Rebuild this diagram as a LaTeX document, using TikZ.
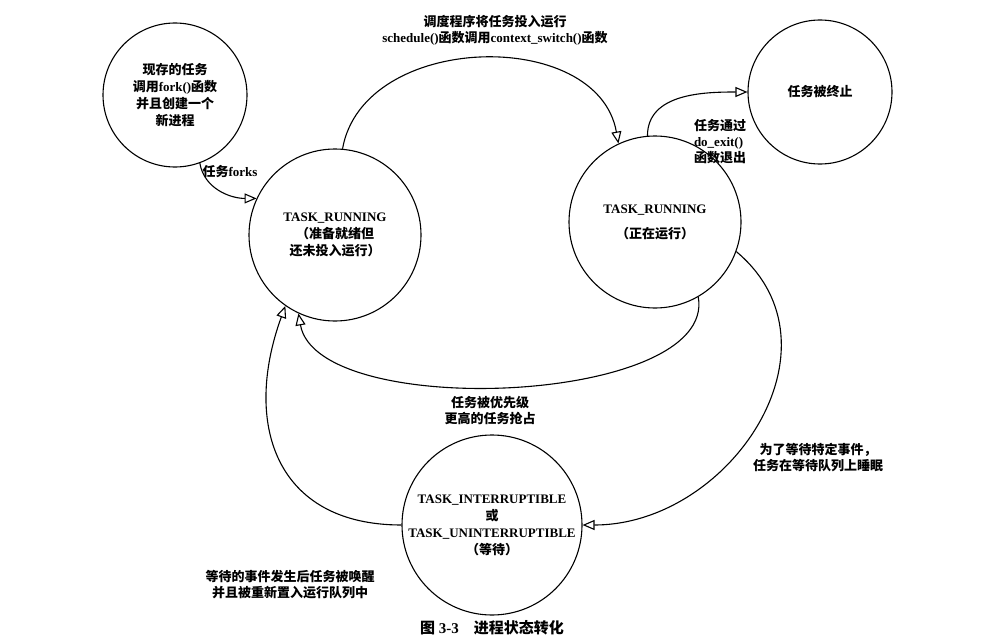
\documentclass[tikz,border=0pt]{standalone}
\usepackage{fontspec}
\setmainfont{Liberation Serif}
\newfontfamily\cjk{Noto Sans CJK SC}
\usetikzlibrary{arrows.meta}
\begin{document}
\begin{tikzpicture}[x=1pt,y=-1pt,>={Triangle[open,length=12pt,width=10pt]},line width=1.1pt,
      state/.style={circle,draw,minimum size=#1,inner sep=0pt,align=center,font=\fontsize{13}{17}\selectfont\bfseries},
      lab/.style={align=center,font=\fontsize{13}{16}\selectfont\bfseries}]
  \useasboundingbox (0,0) rectangle (988,642);

  \node[state=144pt] (new) at (175,95) {{\cjk 现存的任务}\\{\cjk 调用}fork(){\cjk 函数}\\{\cjk 并且创建一个}\\{\cjk 新进程}};
  \node[state=172pt] (ready) at (335,235) {TASK\_RUNNING\\{\cjk （准备就绪但}\\{\cjk 还未投入运行）}};
  \node[state=172pt] (run) at (655,222) {TASK\_RUNNING\\[8pt]{\cjk （正在运行）}};
  \node[state=144pt] (dead) at (820,92) {\cjk 任务被终止};
  \node[state=180pt] (wait) at (492,525) {TASK\_INTERRUPTIBLE\\{\cjk 或}\\TASK\_UNINTERRUPTIBLE\\{\cjk （等待）}};

  \draw[->] (new.-70) to[out=-80,in=180] (ready.155);
  \node[lab] (forks) at (230,172) {{\cjk 任务}forks};

  \draw[->] (ready.85) to[out=80,in=100,looseness=1.1] (run.115);
  \node[lab] (sched) at (495,30) {{\cjk 调度程序将任务投入运行}\\schedule(){\cjk 函数调用}context\_switch(){\cjk 函数}};

  \draw[->] (run.-60) to[out=-80,in=-80,looseness=0.7] (ready.-115);
  \node[lab] (preempt) at (490,410) {\cjk 任务被优先级\\\cjk 更高的任务抢占};

  \draw[->] (run.-20) to[out=-40,in=0,looseness=1.2] (wait.0);
  \node[lab] (sleep) at (818,458) {\cjk 为了等待特定事件，\\\cjk 任务在等待队列上睡眠};

  \draw[->] (wait.180) to[out=180,in=-110,looseness=1.3] (ready.-125);
  \node[lab] (wake) at (290,585) {\cjk 等待的事件发生后任务被唤醒\\\cjk 并且被重新置入运行队列中};

  \draw[->] (run.95) to[out=90,in=180] (dead.180);
  \node[lab,align=left] (exit) at (720,142) {{\cjk 任务通过}\\do\_exit()\\{\cjk 函数退出}};

  \node[font=\fontsize{15}{17}\selectfont\bfseries] (cap) at (492,628) {{\cjk 图} 3-3\quad{\cjk 进程状态转化}};
\end{tikzpicture}
\end{document}
